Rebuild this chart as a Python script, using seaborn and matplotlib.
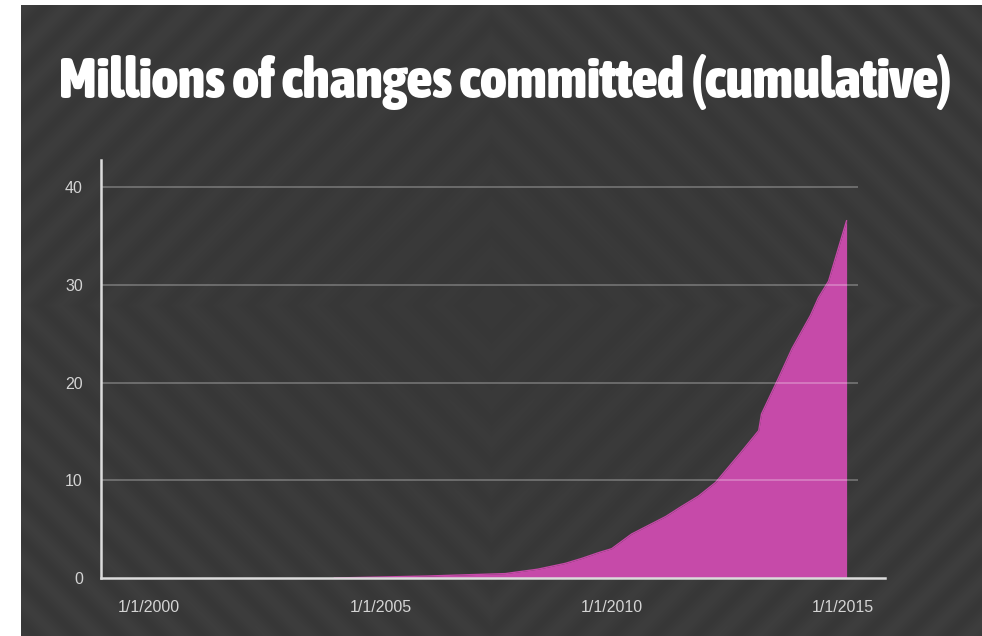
import numpy as np
import matplotlib
matplotlib.use("Agg")
import matplotlib.pyplot as plt
import seaborn as sns
from matplotlib import font_manager as fm

# ---- data ----
years = [2004.0, 2005.0, 2006.0, 2007.0, 2007.7, 2008.4, 2009.0, 2009.35, 2009.72,
         2010.0, 2010.2, 2010.43, 2010.8, 2011.17, 2011.5, 2011.88, 2012.25, 2012.8,
         2013.18, 2013.24, 2013.6, 2013.9, 2014.3, 2014.47, 2014.69, 2015.08]
values = [0.0, 0.1, 0.2, 0.35, 0.45, 0.9, 1.5, 2.0, 2.6,
          3.0, 3.7, 4.5, 5.4, 6.3, 7.3, 8.4, 9.8, 12.9,
          15.1, 16.8, 20.4, 23.5, 26.9, 28.7, 30.4, 36.6]
x_ticks = [2000, 2005, 2010, 2015]
x_tick_labels = ["1/1/2000", "1/1/2005", "1/1/2010", "1/1/2015"]
y_ticks = [0, 10, 20, 30, 40]
grid_values = [10, 20, 30, 40]
title = "Millions of changes committed (cumulative)"

sns.set_theme(style="white")
plt.rcParams["font.family"] = ["Liberation Sans", "DejaVu Sans"]

W, H = 982, 636
fig = plt.figure(figsize=(W / 100, H / 100), dpi=100, facecolor="white")

# ---- background with concentric chevron stripes ----
bg = fig.add_axes([21 / W, 0, 1 - 21 / W, 1 - 5 / H])
bg.set_axis_off()
h, w = H - 5, W - 21
yy, xx = np.mgrid[0:h, 0:w]
cx, cy = 470, 300
d = np.abs(xx - cx) + np.abs(yy - cy)
stripe = 0.5 * (1 + np.sin(2 * np.pi * d / 42.0))
r = np.sqrt(((xx - cx) / w) ** 2 + ((yy - cy) / h) ** 2)
amp = 0.005 + 0.018 * np.clip(r * 1.6, 0, 1)
base = 0.218 + amp * stripe
img = np.dstack([base, base, base])
bg.imshow(img, aspect="auto", interpolation="bilinear", extent=[0, 1, 0, 1])
bg.set_xlim(0, 1)
bg.set_ylim(0, 1)

# ---- main axes ----
x0, x1 = 1998.96, 2015.91
ax = fig.add_axes([101 / W, 1 - 578 / H, (885 - 101) / W, (578 - 160) / H])
ax.patch.set_alpha(0)
pink = "#c64aa9"
ax.fill_between(years, values, 0, color=pink, lw=0, zorder=2)
sns.lineplot(x=years, y=values, color=pink, lw=1, ax=ax, zorder=2)
ax.hlines(grid_values, x0, 2015.32, color="white", alpha=0.28, lw=1.3, zorder=3)

ax.set_xlim(x0, x1)
ax.set_ylim(0, 42.8)
ax.set_xticks(x_ticks)
ax.set_xticklabels(x_tick_labels)
ax.set_yticks(y_ticks)
ax.set_yticklabels([str(v) for v in y_ticks])
ax.tick_params(axis="both", length=0, labelsize=11.5, labelcolor="#d4d4d4")
ax.tick_params(axis="x", pad=16)
ax.tick_params(axis="y", pad=13)
for s in ["top", "right"]:
    ax.spines[s].set_visible(False)
for s in ["left", "bottom"]:
    ax.spines[s].set_color("#dcdcdc")
    ax.spines[s].set_linewidth(1.8)
    ax.spines[s].set_zorder(4)
ax.set_xlabel("")
ax.set_ylabel("")

# ---- title: prefer a condensed / narrow bold face if one is installed ----
cands = []
for f in fm.fontManager.ttflist:
    nm = (f.name + " " + str(f.stretch) + " " + f.fname).lower()
    if ("condensed" in nm or "narrow" in nm) and (
            f.weight in ("bold", 700, "heavy", 800, 900, "black") or "bold" in f.fname.lower()):
        cands.append(f)
cands.sort(key=lambda f: ("dejavu" in f.fname.lower(), "oblique" in f.fname.lower() or "italic" in f.fname.lower()))
kw = dict(ha="center", va="baseline", color="white")
if cands:
    fp = fm.FontProperties(fname=cands[0].fname, size=40)
    t = fig.text(505 / W, 1 - 98 / H, title, fontproperties=fp, **kw)
else:
    t = fig.text(505 / W, 1 - 98 / H, title, fontweight="bold", fontsize=40, **kw)
fig.canvas.draw()
bb = t.get_window_extent()
t.set_fontsize(40 * 890 / bb.width)

fig.savefig("out.png", dpi=100, facecolor="white")
